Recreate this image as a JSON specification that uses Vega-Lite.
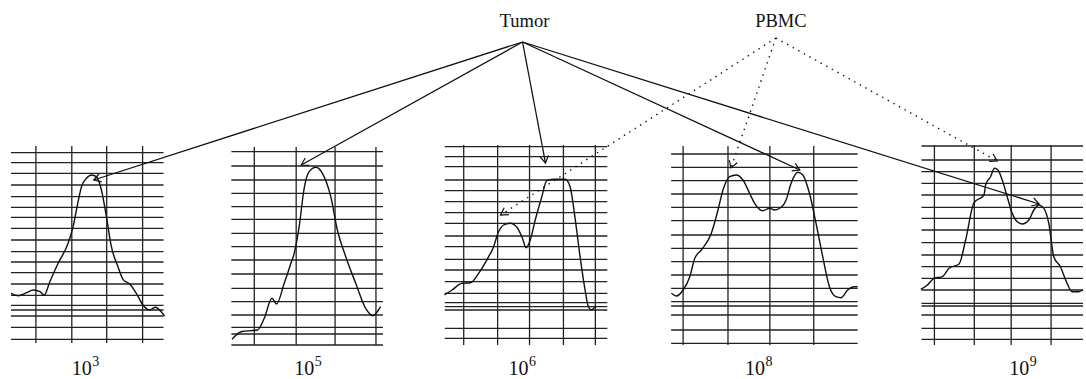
{
  "$schema": "https://vega.github.io/schema/vega-lite/v6.json",
  "width": 1086,
  "height": 379,
  "autosize": {"type": "fit", "contains": "padding"},
  "padding": 0,
  "background": "white",
  "config": {"view": {"stroke": null}},
  "layer": [
    {
      "data": {"values": [
        {"p":1,"x":36,"y1":146,"y2":343},{"p":1,"x":72,"y1":146,"y2":343},{"p":1,"x":107,"y1":146,"y2":343},{"p":1,"x":143,"y1":146,"y2":343},
        {"p":2,"x":255,"y1":147,"y2":345},{"p":2,"x":297,"y1":147,"y2":345},{"p":2,"x":336,"y1":147,"y2":345},{"p":2,"x":377,"y1":147,"y2":345},
        {"p":3,"x":465,"y1":145,"y2":345},{"p":3,"x":499,"y1":145,"y2":345},{"p":3,"x":531,"y1":145,"y2":345},{"p":3,"x":565,"y1":145,"y2":345},{"p":3,"x":597,"y1":145,"y2":345},
        {"p":4,"x":685,"y1":146,"y2":345},{"p":4,"x":730,"y1":146,"y2":345},{"p":4,"x":772,"y1":146,"y2":345},{"p":4,"x":816,"y1":146,"y2":345},
        {"p":5,"x":937,"y1":145,"y2":345},{"p":5,"x":977,"y1":145,"y2":345},{"p":5,"x":1014,"y1":145,"y2":345},{"p":5,"x":1054,"y1":145,"y2":345}
      ]},
      "mark": {"type": "rule", "color": "#222", "strokeWidth": 1.3},
      "encoding": {
        "x": {"field": "x", "type": "quantitative", "scale": {"domain": [0, 1086], "nice": false, "zero": false}, "axis": null},
        "y": {"field": "y1", "type": "quantitative", "scale": {"domain": [0, 379], "nice": false, "zero": false, "reverse": true}, "axis": null},
        "y2": {"field": "y2"}
      }
    },
    {
      "data": {"values": [
        {"p":1,"x1":11,"x2":164,"y":152.7},{"p":1,"x1":11,"x2":164,"y":162.7},{"p":1,"x1":11,"x2":164,"y":173.3},{"p":1,"x1":11,"x2":164,"y":185},{"p":1,"x1":11,"x2":164,"y":196.7},{"p":1,"x1":11,"x2":164,"y":207.3},{"p":1,"x1":11,"x2":164,"y":217.3},{"p":1,"x1":11,"x2":164,"y":228.3},{"p":1,"x1":11,"x2":164,"y":240},{"p":1,"x1":11,"x2":164,"y":251.7},{"p":1,"x1":11,"x2":164,"y":262},{"p":1,"x1":11,"x2":164,"y":272.7},{"p":1,"x1":11,"x2":164,"y":284},{"p":1,"x1":11,"x2":164,"y":295.3},{"p":1,"x1":11,"x2":164,"y":305.3},{"p":1,"x1":11,"x2":164,"y":310},{"p":1,"x1":11,"x2":164,"y":316},{"p":1,"x1":11,"x2":164,"y":327.3},{"p":1,"x1":11,"x2":164,"y":339.3},
        {"p":2,"x1":232,"x2":384,"y":151.7},{"p":2,"x1":232,"x2":384,"y":166},{"p":2,"x1":232,"x2":384,"y":180},{"p":2,"x1":232,"x2":384,"y":193.3},{"p":2,"x1":232,"x2":384,"y":206.7},{"p":2,"x1":232,"x2":384,"y":219.3},{"p":2,"x1":232,"x2":384,"y":233.3},{"p":2,"x1":232,"x2":384,"y":246.7},{"p":2,"x1":232,"x2":384,"y":260},{"p":2,"x1":232,"x2":384,"y":274},{"p":2,"x1":232,"x2":384,"y":288.3},{"p":2,"x1":232,"x2":384,"y":301.7},{"p":2,"x1":232,"x2":384,"y":315},{"p":2,"x1":232,"x2":384,"y":327.3},{"p":2,"x1":232,"x2":384,"y":334},{"p":2,"x1":232,"x2":384,"y":345},
        {"p":3,"x1":446,"x2":609,"y":146.7},{"p":3,"x1":446,"x2":609,"y":156.7},{"p":3,"x1":446,"x2":609,"y":166.7},{"p":3,"x1":446,"x2":609,"y":180},{"p":3,"x1":446,"x2":609,"y":190.7},{"p":3,"x1":446,"x2":609,"y":201.7},{"p":3,"x1":446,"x2":609,"y":212.7},{"p":3,"x1":446,"x2":609,"y":223.3},{"p":3,"x1":446,"x2":609,"y":236},{"p":3,"x1":446,"x2":609,"y":246.7},{"p":3,"x1":446,"x2":609,"y":259.3},{"p":3,"x1":446,"x2":609,"y":270},{"p":3,"x1":446,"x2":609,"y":281.7},{"p":3,"x1":446,"x2":609,"y":293.3},{"p":3,"x1":446,"x2":609,"y":302.7},{"p":3,"x1":446,"x2":609,"y":306.7},{"p":3,"x1":446,"x2":609,"y":310},{"p":3,"x1":446,"x2":609,"y":328.3},{"p":3,"x1":446,"x2":609,"y":338.3},
        {"p":4,"x1":673,"x2":860,"y":154},{"p":4,"x1":673,"x2":860,"y":167.3},{"p":4,"x1":673,"x2":860,"y":180.7},{"p":4,"x1":673,"x2":860,"y":194},{"p":4,"x1":673,"x2":860,"y":207.3},{"p":4,"x1":673,"x2":860,"y":220.7},{"p":4,"x1":673,"x2":860,"y":235},{"p":4,"x1":673,"x2":860,"y":248.3},{"p":4,"x1":673,"x2":860,"y":261.7},{"p":4,"x1":673,"x2":860,"y":275},{"p":4,"x1":673,"x2":860,"y":288.3},{"p":4,"x1":673,"x2":860,"y":301.7},{"p":4,"x1":673,"x2":860,"y":306},{"p":4,"x1":673,"x2":860,"y":315},{"p":4,"x1":673,"x2":860,"y":330},{"p":4,"x1":673,"x2":860,"y":343.3},
        {"p":5,"x1":924,"x2":1086,"y":146},{"p":5,"x1":924,"x2":1086,"y":160},{"p":5,"x1":924,"x2":1086,"y":171.7},{"p":5,"x1":924,"x2":1086,"y":183.3},{"p":5,"x1":924,"x2":1086,"y":195},{"p":5,"x1":924,"x2":1086,"y":207.3},{"p":5,"x1":924,"x2":1086,"y":218.3},{"p":5,"x1":924,"x2":1086,"y":230},{"p":5,"x1":924,"x2":1086,"y":242.7},{"p":5,"x1":924,"x2":1086,"y":255},{"p":5,"x1":924,"x2":1086,"y":266.7},{"p":5,"x1":924,"x2":1086,"y":278.3},{"p":5,"x1":924,"x2":1086,"y":290},{"p":5,"x1":924,"x2":1086,"y":303.3},{"p":5,"x1":924,"x2":1086,"y":306},{"p":5,"x1":924,"x2":1086,"y":315},{"p":5,"x1":924,"x2":1086,"y":328.3},{"p":5,"x1":924,"x2":1086,"y":339.3}
      ]},
      "mark": {"type": "rule", "color": "#222", "strokeWidth": 1.3},
      "encoding": {
        "x": {"field": "x1", "type": "quantitative", "scale": {"domain": [0, 1086], "nice": false, "zero": false}, "axis": null},
        "x2": {"field": "x2"},
        "y": {"field": "y", "type": "quantitative", "scale": {"domain": [0, 379], "nice": false, "zero": false, "reverse": true}, "axis": null}
      }
    },
    {
      "data": {"values": [
        {"p":1,"i":1,"x":11,"y":293.3},{"p":1,"i":2,"x":18.3,"y":295.7},{"p":1,"i":3,"x":26.7,"y":292.7},{"p":1,"i":4,"x":33.3,"y":290},{"p":1,"i":5,"x":40,"y":291.7},{"p":1,"i":6,"x":44.3,"y":295},{"p":1,"i":7,"x":50,"y":281.7},{"p":1,"i":8,"x":58.3,"y":263.3},{"p":1,"i":9,"x":68.3,"y":243.3},{"p":1,"i":10,"x":73.3,"y":226.7},{"p":1,"i":11,"x":78.3,"y":201.7},{"p":1,"i":12,"x":81.7,"y":186.7},{"p":1,"i":13,"x":86.7,"y":178.3},{"p":1,"i":14,"x":91.7,"y":175},{"p":1,"i":15,"x":96.7,"y":176.7},{"p":1,"i":16,"x":101.7,"y":190},{"p":1,"i":17,"x":106.7,"y":216.7},{"p":1,"i":18,"x":111.7,"y":246.7},{"p":1,"i":19,"x":118.3,"y":266.7},{"p":1,"i":20,"x":123.3,"y":279.3},{"p":1,"i":21,"x":130,"y":284},{"p":1,"i":22,"x":136.7,"y":293.3},{"p":1,"i":23,"x":143.3,"y":305},{"p":1,"i":24,"x":150,"y":310},{"p":1,"i":25,"x":156,"y":307.3},{"p":1,"i":26,"x":160,"y":310},{"p":1,"i":27,"x":165,"y":316},
        {"p":2,"i":1,"x":232.7,"y":339.3},{"p":2,"i":2,"x":241.7,"y":331.7},{"p":2,"i":3,"x":258.3,"y":330},{"p":2,"i":4,"x":265,"y":318.3},{"p":2,"i":5,"x":272.7,"y":298.3},{"p":2,"i":6,"x":277.3,"y":304},{"p":2,"i":7,"x":285,"y":283.3},{"p":2,"i":8,"x":291.7,"y":263.3},{"p":2,"i":9,"x":295,"y":253.3},{"p":2,"i":10,"x":300,"y":226.7},{"p":2,"i":11,"x":305,"y":188.3},{"p":2,"i":12,"x":310,"y":171.7},{"p":2,"i":13,"x":316.7,"y":167.3},{"p":2,"i":14,"x":323.3,"y":173.3},{"p":2,"i":15,"x":331.7,"y":196.7},{"p":2,"i":16,"x":338.3,"y":230},{"p":2,"i":17,"x":346.7,"y":256.7},{"p":2,"i":18,"x":356.7,"y":283.3},{"p":2,"i":19,"x":366.7,"y":308.3},{"p":2,"i":20,"x":374,"y":315.7},{"p":2,"i":21,"x":378.3,"y":311.7},{"p":2,"i":22,"x":381.7,"y":306.7},
        {"p":3,"i":1,"x":445.7,"y":295},{"p":3,"i":2,"x":453.3,"y":290},{"p":3,"i":3,"x":463.3,"y":283.3},{"p":3,"i":4,"x":471.7,"y":282.7},{"p":3,"i":5,"x":480,"y":273.3},{"p":3,"i":6,"x":490,"y":256.7},{"p":3,"i":7,"x":495,"y":246.7},{"p":3,"i":8,"x":499.3,"y":233.3},{"p":3,"i":9,"x":505,"y":225},{"p":3,"i":10,"x":511.7,"y":223.3},{"p":3,"i":11,"x":518.3,"y":227.3},{"p":3,"i":12,"x":523.3,"y":236.7},{"p":3,"i":13,"x":527.7,"y":247.7},{"p":3,"i":14,"x":531.7,"y":240},{"p":3,"i":15,"x":536.7,"y":220},{"p":3,"i":16,"x":543.3,"y":196.7},{"p":3,"i":17,"x":548.3,"y":180.7},{"p":3,"i":18,"x":556.7,"y":179.3},{"p":3,"i":19,"x":566.7,"y":179.3},{"p":3,"i":20,"x":571.7,"y":186.7},{"p":3,"i":21,"x":576,"y":213.3},{"p":3,"i":22,"x":581.7,"y":256.7},{"p":3,"i":23,"x":586.7,"y":290},{"p":3,"i":24,"x":590,"y":306.7},{"p":3,"i":25,"x":593.3,"y":310},{"p":3,"i":26,"x":596.7,"y":306.7},
        {"p":4,"i":1,"x":673.3,"y":293.3},{"p":4,"i":2,"x":678.3,"y":296},{"p":4,"i":3,"x":685,"y":290},{"p":4,"i":4,"x":691.7,"y":276.7},{"p":4,"i":5,"x":696.7,"y":258.3},{"p":4,"i":6,"x":703.3,"y":250},{"p":4,"i":7,"x":713.3,"y":233.3},{"p":4,"i":8,"x":720,"y":210},{"p":4,"i":9,"x":725,"y":190},{"p":4,"i":10,"x":731.7,"y":176.7},{"p":4,"i":11,"x":738.3,"y":175},{"p":4,"i":12,"x":745,"y":180},{"p":4,"i":13,"x":751.7,"y":193.3},{"p":4,"i":14,"x":756.7,"y":203.3},{"p":4,"i":15,"x":765,"y":210.7},{"p":4,"i":16,"x":771.7,"y":208.3},{"p":4,"i":17,"x":776.7,"y":210},{"p":4,"i":18,"x":783.3,"y":207.3},{"p":4,"i":19,"x":788.3,"y":200},{"p":4,"i":20,"x":793.3,"y":183.3},{"p":4,"i":21,"x":800,"y":172.3},{"p":4,"i":22,"x":805,"y":175},{"p":4,"i":23,"x":811.7,"y":193.3},{"p":4,"i":24,"x":818.3,"y":223.3},{"p":4,"i":25,"x":825,"y":256.7},{"p":4,"i":26,"x":831.7,"y":286.7},{"p":4,"i":27,"x":838.3,"y":296.7},{"p":4,"i":28,"x":843.3,"y":297.7},{"p":4,"i":29,"x":850,"y":290},{"p":4,"i":30,"x":856.7,"y":286.7},{"p":4,"i":31,"x":860,"y":286.7},
        {"p":5,"i":1,"x":923.3,"y":289.3},{"p":5,"i":2,"x":930,"y":285},{"p":5,"i":3,"x":936.7,"y":278.3},{"p":5,"i":4,"x":945,"y":276.7},{"p":5,"i":5,"x":951.7,"y":268.3},{"p":5,"i":6,"x":961.7,"y":264},{"p":5,"i":7,"x":968.3,"y":240},{"p":5,"i":8,"x":976.7,"y":202.7},{"p":5,"i":9,"x":986.7,"y":195},{"p":5,"i":10,"x":988.3,"y":185},{"p":5,"i":11,"x":993.3,"y":176.7},{"p":5,"i":12,"x":997.3,"y":168.3},{"p":5,"i":13,"x":1000.7,"y":170},{"p":5,"i":14,"x":1005,"y":180},{"p":5,"i":15,"x":1010,"y":196.7},{"p":5,"i":16,"x":1015,"y":213.3},{"p":5,"i":17,"x":1020,"y":221.7},{"p":5,"i":18,"x":1025,"y":224},{"p":5,"i":19,"x":1031.7,"y":220},{"p":5,"i":20,"x":1036.7,"y":210},{"p":5,"i":21,"x":1041.7,"y":205},{"p":5,"i":22,"x":1046.7,"y":208.3},{"p":5,"i":23,"x":1051.7,"y":223.3},{"p":5,"i":24,"x":1056.7,"y":256.7},{"p":5,"i":25,"x":1063.3,"y":266.7},{"p":5,"i":26,"x":1070,"y":283.3},{"p":5,"i":27,"x":1075,"y":291.7},{"p":5,"i":28,"x":1081.7,"y":291.7},{"p":5,"i":29,"x":1086,"y":290}
      ]},
      "mark": {"type": "line", "color": "#111", "strokeWidth": 1.4, "interpolate": "monotone"},
      "encoding": {
        "x": {"field": "x", "type": "quantitative", "scale": {"domain": [0, 1086], "nice": false, "zero": false}, "axis": null},
        "y": {"field": "y", "type": "quantitative", "scale": {"domain": [0, 379], "nice": false, "zero": false, "reverse": true}, "axis": null},
        "detail": {"field": "p", "type": "nominal"},
        "order": {"field": "i", "type": "quantitative"}
      }
    },
    {
      "data": {"values": [
        {"src":"Tumor","x1":524,"y1":42,"x2":94,"y2":180},
        {"src":"Tumor","x1":524,"y1":42,"x2":302,"y2":165},
        {"src":"Tumor","x1":524,"y1":42,"x2":547,"y2":163},
        {"src":"Tumor","x1":524,"y1":42,"x2":802,"y2":170},
        {"src":"Tumor","x1":524,"y1":42,"x2":1042,"y2":204}
      ]},
      "mark": {"type": "rule", "color": "#111", "strokeWidth": 1.3},
      "encoding": {
        "x": {"field": "x1", "type": "quantitative", "scale": {"domain": [0, 1086], "nice": false, "zero": false}, "axis": null},
        "y": {"field": "y1", "type": "quantitative", "scale": {"domain": [0, 379], "nice": false, "zero": false, "reverse": true}, "axis": null},
        "x2": {"field": "x2"},
        "y2": {"field": "y2"}
      }
    },
    {
      "data": {"values": [
        {"src":"PBMC","x1":778,"y1":38,"x2":502,"y2":215},
        {"src":"PBMC","x1":778,"y1":38,"x2":733,"y2":168},
        {"src":"PBMC","x1":778,"y1":38,"x2":1000,"y2":161}
      ]},
      "mark": {"type": "rule", "color": "#111", "strokeWidth": 1.4, "strokeDash": [1.4, 5]},
      "encoding": {
        "x": {"field": "x1", "type": "quantitative", "scale": {"domain": [0, 1086], "nice": false, "zero": false}, "axis": null},
        "y": {"field": "y1", "type": "quantitative", "scale": {"domain": [0, 379], "nice": false, "zero": false, "reverse": true}, "axis": null},
        "x2": {"field": "x2"},
        "y2": {"field": "y2"}
      }
    },
    {
      "data": {"values": [
        {"x":94,"y":180,"angle":162},
        {"x":302,"y":165,"angle":151},
        {"x":547,"y":163,"angle":80},
        {"x":802,"y":170,"angle":25},
        {"x":1042,"y":204,"angle":17},
        {"x":502,"y":215,"angle":147},
        {"x":733,"y":168,"angle":109},
        {"x":1000,"y":161,"angle":28}
      ]},
      "mark": {"type": "point", "shape": "M-1,-0.6L0,0L-1,0.6", "filled": false, "color": "#111", "strokeWidth": 1.2, "size": 196, "opacity": 1},
      "encoding": {
        "x": {"field": "x", "type": "quantitative", "scale": {"domain": [0, 1086], "nice": false, "zero": false}, "axis": null},
        "y": {"field": "y", "type": "quantitative", "scale": {"domain": [0, 379], "nice": false, "zero": false, "reverse": true}, "axis": null},
        "angle": {"field": "angle", "type": "quantitative", "scale": null}
      }
    },
    {
      "data": {"values": [
        {"label":"Tumor","x":526,"y":27},
        {"label":"PBMC","x":783,"y":27}
      ]},
      "mark": {"type": "text", "font": "Liberation Serif", "fontSize": 18.5, "color": "#111", "align": "center", "baseline": "alphabetic"},
      "encoding": {
        "x": {"field": "x", "type": "quantitative", "scale": {"domain": [0, 1086], "nice": false, "zero": false}, "axis": null},
        "y": {"field": "y", "type": "quantitative", "scale": {"domain": [0, 379], "nice": false, "zero": false, "reverse": true}, "axis": null},
        "text": {"field": "label"}
      }
    },
    {
      "data": {"values": [
        {"base":"10","x":92,"y":375},
        {"base":"10","x":315,"y":375},
        {"base":"10","x":530,"y":375},
        {"base":"10","x":767,"y":375},
        {"base":"10","x":1032,"y":375}
      ]},
      "mark": {"type": "text", "font": "Liberation Serif", "fontSize": 20, "color": "#111", "align": "right", "baseline": "alphabetic"},
      "encoding": {
        "x": {"field": "x", "type": "quantitative", "scale": {"domain": [0, 1086], "nice": false, "zero": false}, "axis": null},
        "y": {"field": "y", "type": "quantitative", "scale": {"domain": [0, 379], "nice": false, "zero": false, "reverse": true}, "axis": null},
        "text": {"field": "base"}
      }
    },
    {
      "data": {"values": [
        {"exp":"3","x":92.5,"y":366},
        {"exp":"5","x":315.5,"y":366},
        {"exp":"6","x":530.5,"y":366},
        {"exp":"8","x":767.5,"y":366},
        {"exp":"9","x":1032.5,"y":366}
      ]},
      "mark": {"type": "text", "font": "Liberation Serif", "fontSize": 14, "color": "#111", "align": "left", "baseline": "alphabetic"},
      "encoding": {
        "x": {"field": "x", "type": "quantitative", "scale": {"domain": [0, 1086], "nice": false, "zero": false}, "axis": null},
        "y": {"field": "y", "type": "quantitative", "scale": {"domain": [0, 379], "nice": false, "zero": false, "reverse": true}, "axis": null},
        "text": {"field": "exp"}
      }
    }
  ]
}
